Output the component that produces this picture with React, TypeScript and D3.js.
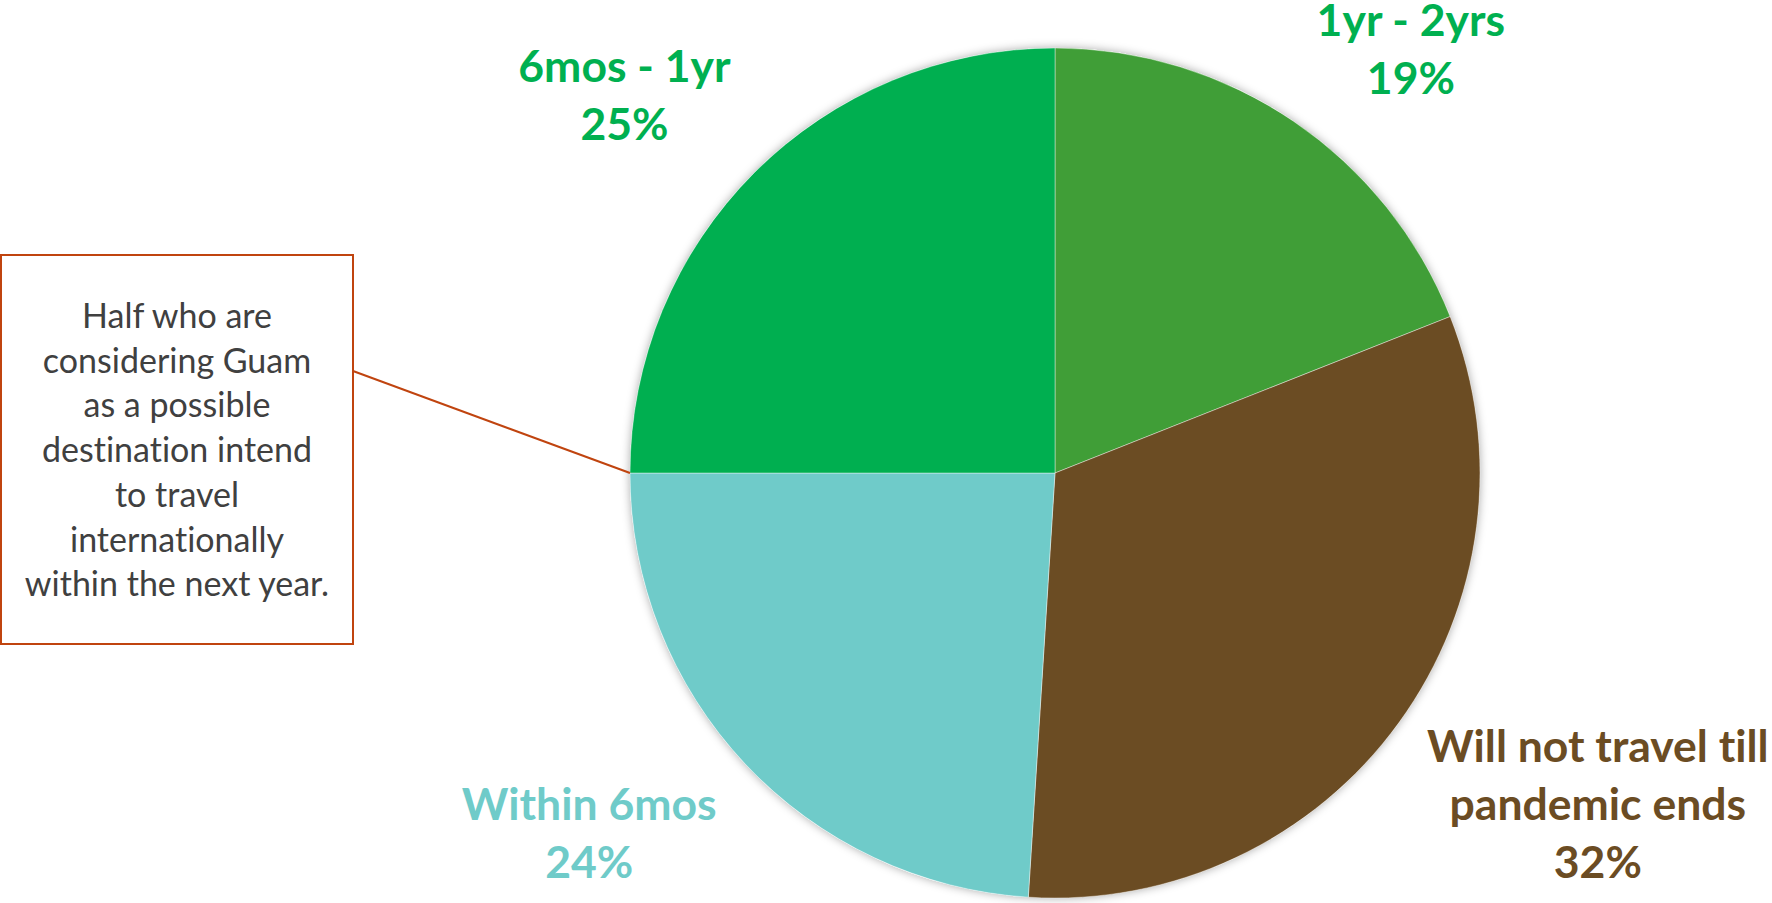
import React from "react";
import * as d3 from "d3";

const categories = ["1yr - 2yrs", "Will not travel till pandemic ends", "Within 6mos", "6mos - 1yr"];
const values = [19, 32, 24, 25];
const labelLines = [["1yr - 2yrs"], ["Will not travel till", "pandemic ends"], ["Within 6mos"], ["6mos - 1yr"]];
const sliceColors = ["#409E37", "#6B4C23", "#6FCBC9", "#00AF50"];
const labelColors = ["#00B050", "#6B4C23", "#6FCBC9", "#00B050"];
const labelOffsets = [[117, -72], [199, 82], [-156, 70], [-130, -77]];
const annotationLines = [
  "Half who are",
  "considering Guam",
  "as a possible",
  "destination intend",
  "to travel",
  "internationally",
  "within the next year.",
];

const W = 1772;
const H = 903;
const cx = 1055;
const cy = 473;
const R = 425;
const FS = 44.5;
const LH = 58;
const ANN_FS = 34;
const ANN_LH = 44.7;

export default function App() {
  const pie = d3.pie<number>().value((d) => d).sort(null);
  const arcs = pie(values);
  const arcGen = d3.arc<d3.PieArcDatum<number>>().innerRadius(0).outerRadius(R);
  const box = { x: 1, y: 255, w: 352, h: 389 };
  const leaderStart: [number, number] = [box.x + box.w, 371];
  const leaderEndAngle = arcs[3].startAngle; // boundary between Within 6mos and 6mos - 1yr
  const leaderEnd: [number, number] = [cx + R * Math.sin(leaderEndAngle), cy - R * Math.cos(leaderEndAngle)];

  return (
    <svg
      width={W}
      height={H}
      style={{ position: "absolute", left: 0, top: 0, background: "#fff", fontVariantLigatures: "none" }}
      fontFamily="Lato, 'Open Sans', sans-serif"
    >
      <defs>
        <filter id="shadow" x="-10%" y="-10%" width="120%" height="120%">
          <feDropShadow dx="0" dy="0" stdDeviation="5" floodColor="#000" floodOpacity="0.35" />
        </filter>
      </defs>
      <g transform={`translate(${cx},${cy})`}>
        <circle r={R} fill="#fff" filter="url(#shadow)" />
        {arcs.map((a, i) => (
          <path key={categories[i]} d={arcGen(a) || ""} fill={sliceColors[i]} stroke="#ffffff" strokeOpacity={0.4} strokeWidth={1} />
        ))}
      </g>
      {arcs.map((a, i) => {
        const mid = (a.startAngle + a.endAngle) / 2;
        const lines = [...labelLines[i], `${values[i]}%`];
        const bx = cx + R * Math.sin(mid) + labelOffsets[i][0];
        const by = cy - R * Math.cos(mid) + labelOffsets[i][1];
        const first = by - ((lines.length - 1) * LH) / 2 + (FS * 0.68) / 2;
        return (
          <text key={categories[i]} x={bx} y={first} textAnchor="middle" fontSize={FS} fontWeight={700} fill={labelColors[i]}>
            {lines.map((l, j) => (
              <tspan key={j} x={bx} y={first + j * LH}>
                {l}
              </tspan>
            ))}
          </text>
        );
      })}
      <line x1={leaderStart[0]} y1={leaderStart[1]} x2={leaderEnd[0]} y2={leaderEnd[1]} stroke="#C0440F" strokeWidth={2} />
      <rect x={box.x} y={box.y} width={box.w} height={box.h} fill="#fff" stroke="#C0440F" strokeWidth={2} />
      <text textAnchor="middle" fontSize={ANN_FS} fill="#404040">
        {annotationLines.map((l, j) => (
          <tspan key={j} x={box.x + box.w / 2} y={328 + j * ANN_LH}>
            {l}
          </tspan>
        ))}
      </text>
    </svg>
  );
}
